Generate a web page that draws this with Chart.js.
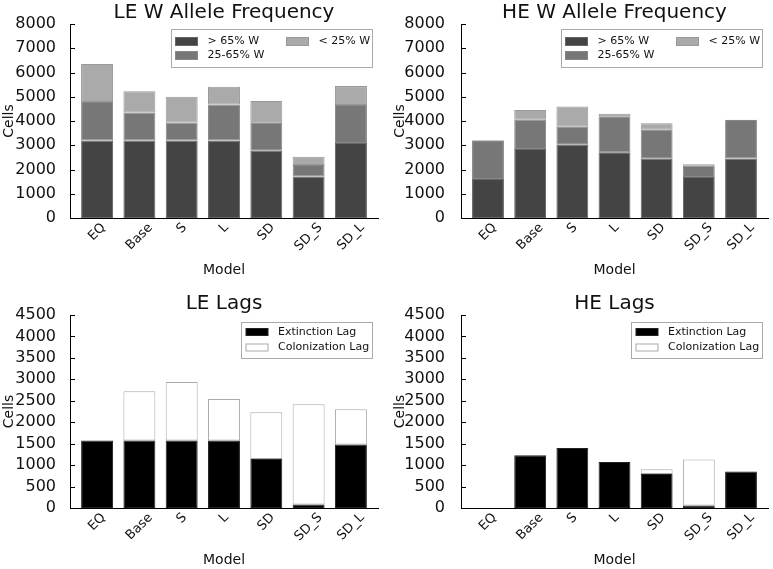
<!DOCTYPE html>
<html>
<head>
<meta charset="utf-8">
<title>W allele frequency and lags</title>
<script src="https://cdn.jsdelivr.net/npm/chart.js@4.4.0/dist/chart.umd.min.js"></script>
<style>
  body { margin: 0; background: #fff; }
  #wrap { position: relative; width: 773px; height: 569px; }
  canvas { position: absolute; }
</style>
</head>
<body>
<div id="wrap">
  <canvas id="leFreq" width="386" height="285" style="left:0;top:0"></canvas>
  <canvas id="heFreq" width="387" height="285" style="left:386px;top:0"></canvas>
  <canvas id="leLags" width="386" height="284" style="left:0;top:285px"></canvas>
  <canvas id="heLags" width="387" height="284" style="left:386px;top:285px"></canvas>
</div>
<script>
const categories = ['EQ', 'Base', 'S', 'L', 'SD', 'SD_S', 'SD_L'];

// W allele frequency, stacked segments (cells)
const leHigh = [3200, 3200, 3200, 3195, 2770, 1710, 3090];
const leMid  = [1580, 1150,  740, 1485, 1180,  475, 1570];
const leLow  = [1570,  880, 1060,  730,  870,  345,  780];

const heHigh = [1610, 2850, 3020, 2710, 2440, 1690, 2450];
const heMid  = [1570, 1200,  740, 1490, 1200,  460, 1590];
const heLow  = [  30,  400,  840,  100,  270,   70,   10];

// lags, colonization stacked on extinction
const leExt = [1575, 1575, 1575, 1575, 1140,   80, 1480];
const leCol = [   0, 1150, 1365,  965, 1095, 2340,  825];

const heExt = [0, 1230, 1400, 1075, 795,   60, 850];
const heCol = [0,    0,    0,    0, 110, 1070,   0];

const freqTicks = [0, 8000, 1000];
const lagTicks = [0, 4500, 500];

const FONT = 'DejaVu Sans';

// titles, axis labels, rotated x labels, inward y ticks, legend box
const decor = {
  id: 'decor',
  afterDraw(chart, args, o) {
    const ctx = chart.ctx, a = chart.chartArea;
    const xs = chart.scales.x, ys = chart.scales.y;
    ctx.save();
    ctx.strokeStyle = '#000';
    ctx.lineWidth = 1;
    ys.ticks.forEach((t) => {
      const py = Math.round(ys.getPixelForValue(t.value)) + 0.5;
      ctx.beginPath();
      ctx.moveTo(a.left, py);
      ctx.lineTo(a.left + 5, py);
      ctx.stroke();
    });

    ctx.fillStyle = '#111';
    ctx.textAlign = 'center';
    ctx.font = `20px "${FONT}"`;
    ctx.textBaseline = 'alphabetic';
    ctx.fillText(o.title, (a.left + a.right) / 2, a.top - 6);

    ctx.font = `14px "${FONT}"`;
    ctx.textBaseline = 'middle';
    ctx.fillText('Model', (a.left + a.right) / 2, a.bottom + 52);
    ctx.save();
    ctx.translate(a.left - 61, (a.top + a.bottom) / 2);
    ctx.rotate(-Math.PI / 2);
    ctx.fillText('Cells', 0, 0);
    ctx.restore();

    ctx.font = `13px "${FONT}"`;
    categories.forEach((c, i) => {
      const w = ctx.measureText(c).width;
      const half = (w + 13) / (2 * Math.SQRT2);
      ctx.save();
      ctx.translate(xs.getPixelForValue(i), a.bottom + 3 + half);
      ctx.rotate(-Math.PI / 4);
      ctx.fillText(c, 0, 0);
      ctx.restore();
    });

    const lg = o.legend;
    const bx = Math.round(a.right - 6 - lg.w) + 0.5;
    const by = Math.round(a.top + lg.top) + 0.5;
    ctx.fillStyle = '#fff';
    ctx.fillRect(bx, by, lg.w, lg.h);
    ctx.strokeStyle = '#aaa';
    ctx.strokeRect(bx, by, lg.w, lg.h);
    ctx.font = `11px "${FONT}"`;
    ctx.textAlign = 'left';
    lg.items.forEach((it) => {
      const sx = bx + lg.cols[it.col], cy = by + lg.rows[it.row];
      ctx.fillStyle = it.fill;
      ctx.fillRect(sx, cy - lg.sh / 2, 22, lg.sh);
      ctx.strokeStyle = it.stroke;
      ctx.strokeRect(sx, cy - lg.sh / 2, 22, lg.sh);
      ctx.fillStyle = '#111';
      ctx.fillText(it.label, sx + 32, cy);
    });
    ctx.restore();
  }
};

function series(arr) {
  return arr.map((v, i) => ({ x: i, y: v }));
}

function makeChart(id, cfg) {
  return new Chart(document.getElementById(id), {
    type: 'bar',
    data: {
      datasets: cfg.sets.map((s) => ({
        label: s.label,
        data: series(s.values),
        backgroundColor: s.fill,
        borderColor: s.stroke,
        borderWidth: 1,
        borderSkipped: false,
        barPercentage: 0.755,
        categoryPercentage: 1
      }))
    },
    options: {
      responsive: false,
      animation: false,
      layout: { padding: { left: 0, top: cfg.top, right: cfg.right, bottom: 0 } },
      plugins: {
        legend: { display: false },
        tooltip: { enabled: false },
        decor: { title: cfg.title, legend: cfg.legend }
      },
      scales: {
        x: {
          type: 'linear',
          stacked: true,
          offset: false,
          min: -0.64,
          max: 6.64,
          grid: { display: false },
          border: { color: '#000', width: 1 },
          ticks: { display: false },
          afterBuildTicks: (s) => { s.ticks = categories.map((_, i) => ({ value: i })); },
          afterFit: (s) => { s.height = cfg.xH; }
        },
        y: {
          stacked: true,
          min: cfg.ticks[0],
          max: cfg.ticks[1],
          grid: { display: false },
          border: { color: '#000', width: 1 },
          ticks: {
            stepSize: cfg.ticks[2],
            autoSkip: false,
            padding: cfg.pad,
            color: '#111',
            font: { family: FONT, size: 16 },
            callback: (v) => String(v)
          },
          afterFit: (s) => { s.width = cfg.yW; }
        }
      }
    },
    plugins: [decor]
  });
}

const freqLegend = {
  w: 201, h: 38, top: 5, sh: 8,
  cols: [4, 115], rows: [12, 26],
  items: [
    { label: '> 65% W', fill: '#444', stroke: '#666', col: 0, row: 0 },
    { label: '25-65% W', fill: '#777', stroke: '#888', col: 0, row: 1 },
    { label: '< 25% W', fill: '#aaa', stroke: '#999', col: 1, row: 0 }
  ]
};

const lagLegend = {
  w: 131, h: 36, top: 6.5, sh: 7,
  cols: [4.5], rows: [9.5, 25],
  items: [
    { label: 'Extinction Lag', fill: '#000', stroke: '#222', col: 0, row: 0 },
    { label: 'Colonization Lag', fill: '#fff', stroke: '#aaa', col: 0, row: 1 }
  ]
};

function freqSets(high, mid, low) {
  return [
    { label: '> 65% W', values: high, fill: '#444', stroke: '#666' },
    { label: '25-65% W', values: mid, fill: '#777', stroke: '#888' },
    { label: '< 25% W', values: low, fill: '#aaa', stroke: '#999' }
  ];
}

function lagSets(ext, col) {
  return [
    { label: 'Extinction Lag', values: ext, fill: '#000', stroke: '#222' },
    { label: 'Colonization Lag', values: col, fill: '#fff', stroke: '#aaa' }
  ];
}

makeChart('leFreq', { title: 'LE W Allele Frequency', sets: freqSets(leHigh, leMid, leLow), ticks: freqTicks,
  top: 24, right: 8, yW: 70, xH: 67, pad: 6, legend: freqLegend });
makeChart('heFreq', { title: 'HE W Allele Frequency', sets: freqSets(heHigh, heMid, heLow), ticks: freqTicks,
  top: 24, right: 5, yW: 75, xH: 67, pad: 8, legend: freqLegend });
makeChart('leLags', { title: 'LE Lags', sets: lagSets(leExt, leCol), ticks: lagTicks,
  top: 30, right: 8, yW: 70, xH: 61, pad: 6, legend: lagLegend });
makeChart('heLags', { title: 'HE Lags', sets: lagSets(heExt, heCol), ticks: lagTicks,
  top: 30, right: 5, yW: 75, xH: 61, pad: 8, legend: lagLegend });
</script>
</body>
</html>
